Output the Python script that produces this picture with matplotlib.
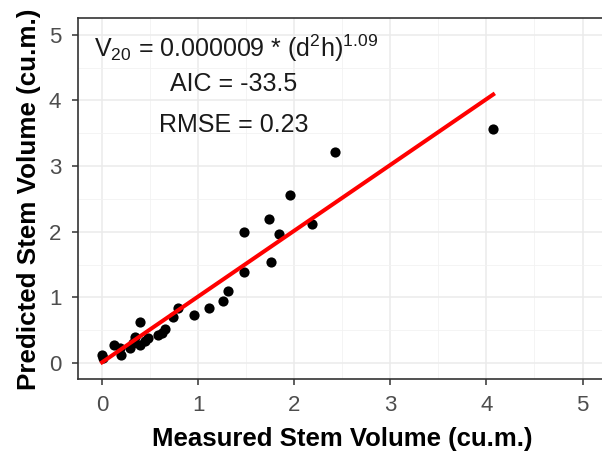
import matplotlib
matplotlib.use("Agg")
import matplotlib.pyplot as plt

plt.rcParams["font.family"] = ["Liberation Sans", "DejaVu Sans"]
plt.rcParams["mathtext.fontset"] = "custom"
plt.rcParams["mathtext.rm"] = "Liberation Sans"
plt.rcParams["mathtext.it"] = "Liberation Sans:italic"

# measured vs predicted stem volume (cu.m.)
measured = [0.01, 0.00, 0.12, 0.20, 0.19, 0.29, 0.32, 0.34, 0.39, 0.39, 0.45,
            0.48, 0.58, 0.62, 0.65, 0.74, 0.79, 0.96, 1.11, 1.26, 1.31, 1.48,
            1.48, 1.74, 1.76, 1.84, 1.96, 2.18, 2.42, 4.07]
predicted = [0.07, 0.12, 0.27, 0.12, 0.23, 0.23, 0.30, 0.40, 0.62, 0.27, 0.33,
             0.38, 0.43, 0.46, 0.52, 0.70, 0.84, 0.73, 0.84, 0.95, 1.10, 1.38,
             2.00, 2.19, 1.54, 1.96, 2.56, 2.12, 3.21, 3.56]

# fitted line
line_x = [0.0, 4.07]
line_y = [0.01, 4.09]

ticks = [0, 1, 2, 3, 4, 5]

fig = plt.figure(figsize=(6.02, 4.53), dpi=100)
ax = fig.add_axes([0.1296, 0.1625, 0.878, 0.797])

ax.scatter(measured, predicted, s=54, color="black", zorder=3, linewidths=0)
ax.plot(line_x, line_y, color="#FF0000", lw=2.9, zorder=4)

ax.set_xlim(-0.25, 5.25)
ax.set_ylim(-0.25, 5.25)
ax.set_xticks(ticks)
ax.set_yticks(ticks)
ax.set_xticks([0.5, 1.5, 2.5, 3.5, 4.5], minor=True)
ax.set_yticks([0.5, 1.5, 2.5, 3.5, 4.5], minor=True)
ax.grid(which="major", color="#EBEBEB", lw=1.1, zorder=0)
ax.grid(which="minor", color="#F2F2F2", lw=0.6, zorder=0)
ax.set_axisbelow(True)
ax.tick_params(which="major", length=4, width=1.1, color="#333333",
               labelcolor="#4D4D4D", labelsize=16)
ax.tick_params(axis="x", which="major", pad=7)
ax.tick_params(axis="y", which="major", pad=8)
ax.tick_params(which="minor", length=0)
for sp in ax.spines.values():
    sp.set_color("#333333")
    sp.set_linewidth(1.2)

ax.set_xlabel("Measured Stem Volume (cu.m.)", fontsize=18.5, fontweight="bold", labelpad=8)
ax.set_ylabel("Predicted Stem Volume (cu.m.)", fontsize=18.7, fontweight="bold", labelpad=6)

ax.text(1.40, 4.80, r"V$_{20}$ = 0.000009 * (d$^{2}$h)$^{1.09}$", fontsize=18,
        ha="center", va="center", color="#1A1A1A")
ax.text(1.37, 4.25, "AIC = -33.5", fontsize=18, ha="center", va="center", color="#1A1A1A")
ax.text(1.37, 3.63, "RMSE = 0.23", fontsize=18, ha="center", va="center", color="#1A1A1A")

fig.savefig("out.png", dpi=100)
